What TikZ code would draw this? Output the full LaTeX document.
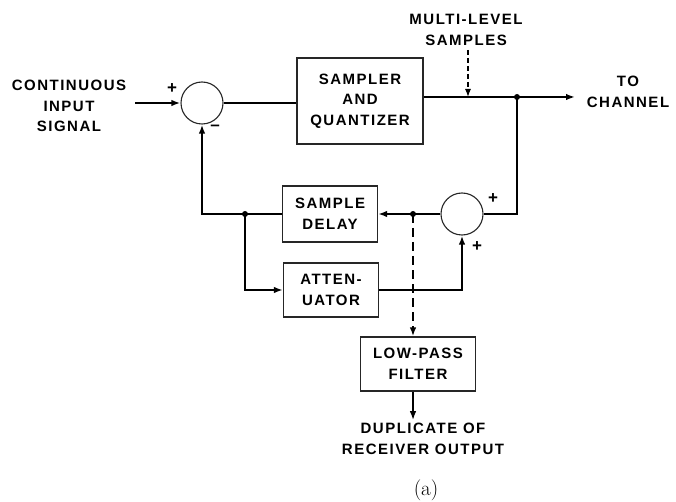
\documentclass[tikz,border=0pt]{standalone}
\usepackage{fontspec}
\setsansfont{Liberation Sans}[LetterSpace=10]
\usetikzlibrary{arrows.meta, positioning}

\begin{document}
\begin{tikzpicture}[x=1pt, y=-1pt,
  lbl/.style={font=\sffamily\bfseries\fontsize{15}{20.5}\selectfont, align=center, inner sep=0pt},
  box/.style={lbl, rectangle, draw=black!85, line width=1.1pt},
  sum/.style={circle, draw=black!85, line width=1.1pt, minimum size=42pt, inner sep=0pt},
  sgn/.style={font=\sffamily\bfseries\fontsize{17}{17}\selectfont, inner sep=0pt},
  wire/.style={line width=2pt},
  arr/.style={wire, -{Latex[length=9pt, width=6.5pt]}},
  dot/.style={circle, fill, inner sep=0pt, minimum size=6pt}]
  \useasboundingbox (0,0) rectangle (676,502);

  % blocks
  \node[sum] (sum1) at (202,103) {};
  \node[box, minimum width=126pt, minimum height=86pt] (sq) at (360,101) {SAMPLER\\ AND\\ QUANTIZER};
  \node[sum] (sum2) at (462,214) {};
  \node[box, minimum width=95pt, minimum height=56pt] (delay) at (330,214) {SAMPLE\\ DELAY};
  \node[box, minimum width=95pt, minimum height=54pt] (att) at (331,290) {ATTEN-\\ UATOR};
  \node[box, minimum width=115pt, minimum height=54pt] (lpf) at (418,364) {LOW-PASS\\ FILTER};

  % texts
  \node[lbl] (input) at (69,106) {CONTINUOUS\\ INPUT\\ SIGNAL};
  \node[lbl] (mls) at (466,30) {MULTI-LEVEL\\ SAMPLES};
  \node[lbl] (chan) at (628,92) {TO\\ CHANNEL};
  \node[lbl, inner ysep=3pt] (dup) at (423,439) {DUPLICATE OF\\ RECEIVER OUTPUT};
  \node[font=\fontsize{21}{21}\selectfont] (cap) at (426,490) {(a)};

  % signs
  \node[sgn] (p1) at (172,89) {+};
  \node[sgn] (m1) at (215,128) {\textendash};
  \node[sgn] (p2) at (493,199) {+};
  \node[sgn] (p3) at (477,247) {+};

  % junctions
  \coordinate (inp) at (135,103);
  \coordinate (out) at (575,97);
  \coordinate (jR) at (517,97);
  \coordinate (ml) at (468,50);
  \coordinate (jD) at (413,214);
  \coordinate (jL) at (245,214);

  % connectors
  \draw[arr] (inp) -- (sum1);
  \draw[wire] (sum1) -- (sum1 -| sq.west);
  \draw[arr] (sq.east |- jR) -- (out);
  \draw[-{Latex[length=8pt, width=6pt]}, line width=1.2pt, dash pattern=on 5pt off 3pt] (ml) -- (ml |- jR);
  \draw[wire] (jR) -- (jR |- sum2) -- (sum2);
  \draw[arr] (sum2) -- (delay);
  \draw[arr, dash pattern=on 9pt off 5pt] (jD) -- (jD |- lpf.north);
  \draw[arr] (delay) -- (jL) -- (jL -| sum1) -- (sum1);
  \draw[arr] (jL) -- (jL |- att) -- (att);
  \draw[arr] (att) -- (att -| sum2) -- (sum2);
  \draw[arr] (lpf.south -| jD) -- (dup.north -| jD);
  \foreach \j in {jR, jD, jL} \node[dot] at (\j) {};
\end{tikzpicture}
\end{document}
